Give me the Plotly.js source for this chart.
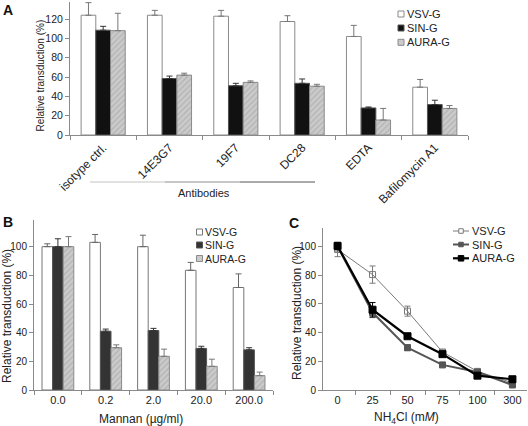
<!DOCTYPE html>
<html><head><meta charset="utf-8">
<script src="https://cdn.plot.ly/plotly-3.0.1.min.js"></script>
<style>html,body{margin:0;padding:0;background:#fff}#chart{width:528px;height:426px}</style>
</head><body><div id="chart"></div>
<script>
// ---- Panel A data ----
const catsA = ['isotype ctrl.', '14E3G7', '19F7', 'DC28', 'EDTA', 'Bafilomycin A1'];
const vsvA = [124, 124, 123, 117.5, 102, 49.5];
const vsvAerr = [13, 5, 6, 6, 11.5, 8];
const sinA = [108.5, 58.5, 51, 53.5, 28, 31.5];
const sinAerr = [4, 2.5, 2.5, 4.5, 1, 4.5];
const auraA = [108, 62, 54.5, 50.5, 15.5, 27.5];
const auraAerr = [18, 2, 1.5, 2, 12, 3];

// ---- Panel B data ----
const catsB = ['0.0', '0.2', '2.0', '20.0', '200.0'];
const vsvB = [100, 103, 100, 83.5, 71.5];
const vsvBerr = [2, 5.5, 8, 5.5, 9.5];
const sinB = [100, 41, 41.5, 29, 28];
const sinBerr = [5.5, 1.5, 1.5, 1.5, 1.5];
const auraB = [100, 29.5, 23.5, 16.5, 10];
const auraBerr = [7, 2, 5, 5, 2.5];

// ---- Panel C data ----
const catsC = ['0', '25', '50', '75', '100', '300'];
const vsvC = [98, 80.5, 55, 26.5, 13, 5];
const vsvCerr = [5, 6, 3.5, 1.5, 1.5, 1];
const sinC = [100, 54, 29.5, 17.5, 12.5, 3.5];
const sinCerr = [3, 3.5, 2, 1, 1, 0.5];
const auraC = [100.5, 56, 37.5, 25, 10, 7.5];
const auraCerr = [2, 5, 1, 1, 1, 0.5];

const seriesNames = ['VSV-G', 'SIN-G', 'AURA-G'];

const W = 528, H = 426;
const px = v => v / W;
const py = v => 1 - v / H;
const FONT = 'Liberation Sans, Arial, Helvetica, sans-serif';
const zeros = a => a.map(() => 0);

function errUp(arr, color) {
  return {type: 'data', symmetric: false, array: arr, arrayminus: zeros(arr),
          color: color, thickness: 1, width: 3};
}
const hatch = {shape: '/', bgcolor: '#cbcbcb', fgcolor: '#b5b5b5', size: 4, solidity: 0.35};

// series styles (shared by marks and legend keys)
const barStyleA = [
  {fill: '#ffffff', edge: '#8a8a8a', err: '#777'},
  {fill: '#111111', edge: '#555555', err: '#333'},
  {fill: '#cbcbcb', edge: '#8a8a8a', err: '#777'}
];
const barStyleB = [
  {fill: '#ffffff', edge: '#777777', err: '#666'},
  {fill: '#333333', edge: '#555555', err: '#333'},
  {fill: '#cbcbcb', edge: '#8a8a8a', err: '#777'}
];
const lineStyleC = [
  {color: '#7a7a7a', width: 1, symbol: 'square-open', size: 6, fill: '#ffffff'},
  {color: '#555555', width: 2, symbol: 'square', size: 6, fill: '#555555'},
  {color: '#000000', width: 2.2, symbol: 'square', size: 7, fill: '#000000'}
];

const seriesA = [[vsvA, vsvAerr], [sinA, sinAerr], [auraA, auraAerr]];
const seriesB = [[vsvB, vsvBerr], [sinB, sinBerr], [auraB, auraBerr]];
const seriesC = [[vsvC, vsvCerr], [sinC, sinCerr], [auraC, auraCerr]];

const traces = [];
seriesA.forEach((s, i) => traces.push({
  type: 'bar', name: seriesNames[i], x: catsA, y: s[0], xaxis: 'x', yaxis: 'y', showlegend: false,
  marker: Object.assign({color: barStyleA[i].fill, line: {color: barStyleA[i].edge, width: 1}}, i === 2 ? {pattern: hatch} : {}),
  error_y: errUp(s[1], barStyleA[i].err)
}));
seriesB.forEach((s, i) => traces.push({
  type: 'bar', name: seriesNames[i], x: catsB, y: s[0], xaxis: 'x2', yaxis: 'y2', showlegend: false,
  marker: Object.assign({color: barStyleB[i].fill, line: {color: barStyleB[i].edge, width: 1}}, i === 2 ? {pattern: hatch} : {}),
  error_y: errUp(s[1], barStyleB[i].err)
}));
seriesC.forEach((s, i) => traces.push({
  type: 'scatter', mode: 'lines+markers', name: seriesNames[i], x: catsC, y: s[0], xaxis: 'x3', yaxis: 'y3', showlegend: false,
  line: {color: lineStyleC[i].color, width: lineStyleC[i].width},
  marker: {symbol: lineStyleC[i].symbol, size: lineStyleC[i].size, color: lineStyleC[i].color, line: {width: 1, color: lineStyleC[i].color}},
  error_y: {type: 'data', array: s[1], color: lineStyleC[i].color, thickness: 1, width: 3}
}));

function axBase(extra) {
  return Object.assign({
    showline: true, linecolor: '#8a8a8a', linewidth: 1, ticks: 'outside', ticklen: 4,
    tickcolor: '#8a8a8a', tickwidth: 1, showgrid: false, zeroline: false, fixedrange: true,
    tickfont: {family: FONT, size: 10.5, color: '#222'}
  }, extra);
}

const ann = (text, x, y, size, extra) => Object.assign({
  text: text, x: px(x), y: py(y), xref: 'paper', yref: 'paper', showarrow: false,
  xanchor: 'center', yanchor: 'middle', font: {family: FONT, size: size, color: '#222'}
}, extra || {});

const shapes = [
  // "Antibodies" bracket line (light to dark)
  {type: 'line', xref: 'paper', yref: 'paper', x0: px(90), x1: px(165), y0: py(182), y1: py(182), line: {color: '#c4c4c4', width: 1}},
  {type: 'line', xref: 'paper', yref: 'paper', x0: px(165), x1: px(240), y0: py(182), y1: py(182), line: {color: '#8e8e8e', width: 1}},
  {type: 'line', xref: 'paper', yref: 'paper', x0: px(240), x1: px(315), y0: py(182), y1: py(182), line: {color: '#555555', width: 1}}
];
const annotations = [
  ann('<b>A</b>', 7.5, 10.5, 14, {font: {family: FONT, size: 14, color: '#111'}}),
  ann('<b>B</b>', 7.5, 222, 14, {font: {family: FONT, size: 14, color: '#111'}}),
  ann('<b>C</b>', 293.5, 222.5, 14, {font: {family: FONT, size: 14, color: '#111'}}),
  ann('Relative transduction (%)', 40, 75.5, 10, {textangle: -90}),
  ann('Antibodies', 203.5, 192.5, 11),
  ann('Relative transduction (%)', 7, 316, 12, {textangle: -90}),
  ann('Mannan (µg/ml)', 141, 419, 12),
  ann('Relative transduction (%)', 297, 313, 12, {textangle: -90}),
  ann('NH<sub>4</sub>Cl (m<i>M</i>)', 406, 418, 12)
];

// legend keys (square swatches / line keys) + labels
function squareKey(cx, cy, s, st) {
  shapes.push({type: 'rect', xref: 'paper', yref: 'paper', x0: px(cx - s / 2), x1: px(cx + s / 2),
    y0: py(cy + s / 2), y1: py(cy - s / 2), fillcolor: st.fill, line: {color: st.edge, width: 1}});
}
const legA = {keyX: 401, textX: 405, ys: [14, 28, 42.3], size: 11};
const legB = {keyX: 199.5, textX: 203, ys: [232, 245, 258.5], size: 10.5};
const legC = {x0: 453, x1: 469, textX: 470, ys: [231, 244.5, 258.3], size: 11};
seriesNames.forEach((n, i) => {
  squareKey(legA.keyX, legA.ys[i], 6, barStyleA[i]);
  annotations.push(ann(n, legA.textX, legA.ys[i], legA.size, {xanchor: 'left'}));
  squareKey(legB.keyX, legB.ys[i], 6, barStyleB[i]);
  annotations.push(ann(n, legB.textX, legB.ys[i], legB.size, {xanchor: 'left'}));
  const ls = lineStyleC[i];
  shapes.push({type: 'line', xref: 'paper', yref: 'paper', x0: px(legC.x0), x1: px(legC.x1),
    y0: py(legC.ys[i]), y1: py(legC.ys[i]), line: {color: ls.color, width: ls.width}});
  squareKey((legC.x0 + legC.x1) / 2, legC.ys[i], ls.size - 1.5, {fill: ls.fill, edge: ls.color});
  annotations.push(ann(n, legC.textX, legC.ys[i], legC.size, {xanchor: 'left'}));
});

const layout = {
  width: W, height: H, margin: {l: 0, r: 0, t: 0, b: 0},
  paper_bgcolor: '#ffffff', plot_bgcolor: 'rgba(0,0,0,0)',
  barmode: 'group', bargap: 0.335, bargroupgap: 0, showlegend: false,
  font: {family: FONT, color: '#222'},
  xaxis: axBase({domain: [px(70), px(468)], anchor: 'y', type: 'category', tickson: 'boundaries', tickangle: -45,
                 tickfont: {family: FONT, size: 12, color: '#222'}}),
  yaxis: axBase({domain: [py(135), py(1.7)], anchor: 'x', range: [0, 138], dtick: 20}),
  xaxis2: axBase({domain: [px(34), px(273)], anchor: 'y2', type: 'category', tickson: 'boundaries',
                  tickfont: {family: FONT, size: 11, color: '#222'}}),
  yaxis2: axBase({domain: [py(390), py(220)], anchor: 'x2', range: [0, 118.6], dtick: 20,
                  tickfont: {family: FONT, size: 10, color: '#222'}}),
  xaxis3: axBase({domain: [px(323), px(527)], anchor: 'y3', type: 'category', tickson: 'boundaries',
                  tickfont: {family: FONT, size: 11, color: '#222'}}),
  yaxis3: axBase({domain: [py(390), py(228)], anchor: 'x3', range: [0, 113], dtick: 20,
                  tickfont: {family: FONT, size: 10, color: '#222'}}),
  shapes: shapes,
  annotations: annotations
};

Plotly.newPlot('chart', traces, layout, {staticPlot: true, displayModeBar: false});
</script></body></html>
